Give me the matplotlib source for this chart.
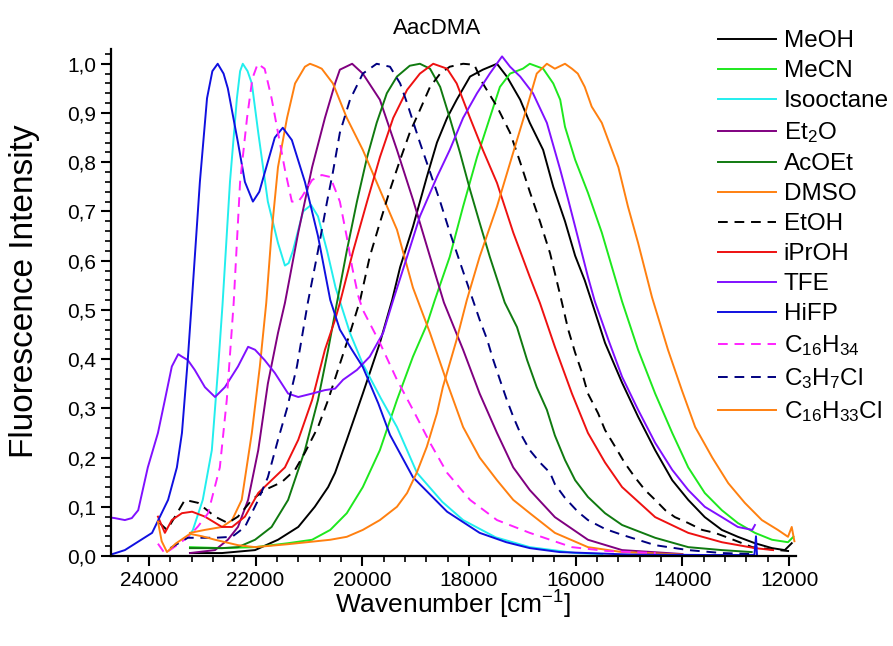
import matplotlib
matplotlib.use("Agg")
import matplotlib.pyplot as plt
from matplotlib.ticker import MultipleLocator, FuncFormatter

plt.rcParams['font.family'] = ['Liberation Sans', 'DejaVu Sans']
plt.rcParams['mathtext.default'] = 'regular'

# wavenumber [cm-1] / normalised intensity
meoh_x = [23230, 22630, 22010, 21580, 21200, 20890, 20640, 20510, 20290, 19990, 19670, 19440, 19290,
          19050, 18790, 18600, 18410, 18230, 17980, 17740, 17475, 17290, 17040, 16860, 16610, 16420,
          16200, 16010, 15830, 15700, 15450, 15130, 14830, 14510, 14190, 13890, 13580, 13260, 12960,
          12640, 12320, 12080, 11950]
meoh_y = [0.006, 0.006, 0.012, 0.033, 0.059, 0.10, 0.14, 0.169, 0.236, 0.33, 0.433, 0.52, 0.587,
          0.669, 0.77, 0.84, 0.89, 0.927, 0.974, 0.988, 1.0, 0.974, 0.927, 0.88, 0.825, 0.75,
          0.68, 0.61, 0.56, 0.517, 0.433, 0.352, 0.283, 0.215, 0.154, 0.114, 0.079, 0.053, 0.039,
          0.026, 0.016, 0.012, 0.026]

mecn_x = [23230, 22630, 22010, 21390, 20940, 20600, 20290, 19990, 19670, 19350, 19050, 18790, 18640,
          18360, 18110, 17850, 17610, 17420, 17230, 16990, 16860, 16610, 16420, 16290, 16200, 16010,
          15770, 15510, 15320, 15130, 14830, 14510, 14190, 13890, 13580, 13260, 12960, 12640, 12320,
          12020, 11920]
mecn_y = [0.018, 0.016, 0.018, 0.026, 0.033, 0.053, 0.087, 0.14, 0.215, 0.317, 0.405, 0.47, 0.52,
          0.608, 0.71, 0.81, 0.89, 0.953, 0.98, 0.99, 1.0, 0.99, 0.96, 0.927, 0.872, 0.805,
          0.738, 0.657, 0.587, 0.517, 0.419, 0.33, 0.25, 0.18, 0.128, 0.093, 0.067, 0.047, 0.033,
          0.028, 0.039]

iso_x = [23230, 23175, 22990, 22820, 22700, 22620, 22480, 22350, 22290, 22240, 22150, 22070, 21950,
         21770, 21580, 21450, 21380, 21300, 21110, 20960, 20830, 20660, 20500, 20230, 19990, 19650,
         19350, 18975, 18500, 18110, 17500, 16860, 16000, 15500]
iso_y = [0.043, 0.053, 0.114, 0.215, 0.385, 0.51, 0.76, 0.93, 0.985, 1.0, 0.985, 0.96, 0.86,
         0.72, 0.636, 0.59, 0.595, 0.62, 0.70, 0.713, 0.69, 0.62, 0.545, 0.453, 0.39, 0.32,
         0.262, 0.169, 0.11, 0.073, 0.038, 0.018, 0.006, 0.004]

et2o_x = [23230, 22760, 22520, 22330, 22140, 21950, 21770, 21580, 21450, 21200, 20940, 20700, 20510,
          20420, 20190, 19990, 19670, 19350, 19050, 18730, 18470, 18110, 17800, 17475, 17170, 16860,
          16390, 15770, 15130, 14000]
et2o_y = [0.006, 0.012, 0.033, 0.059, 0.114, 0.215, 0.35, 0.453, 0.514, 0.657, 0.79, 0.89, 0.96,
          0.988, 1.0, 0.98, 0.927, 0.825, 0.724, 0.608, 0.515, 0.419, 0.33, 0.25, 0.18, 0.134,
          0.079, 0.033, 0.012, 0.004]

acoet_x = [23230, 22630, 22330, 22010, 21700, 21390, 21075, 20830, 20640, 20500, 20290, 20100, 19910,
           19730, 19540, 19350, 19110, 18920, 18730, 18540, 18360, 18170, 17980, 17800, 17610, 17330,
           17100, 16910, 16730, 16540, 16390, 16200, 16010, 15770, 15450, 15130, 14510, 13890, 13260,
           12700]
acoet_y = [0.016, 0.016, 0.018, 0.033, 0.059, 0.114, 0.215, 0.317, 0.419, 0.50, 0.62, 0.72, 0.81,
           0.88, 0.94, 0.974, 0.996, 1.0, 0.99, 0.953, 0.89, 0.82, 0.744, 0.677, 0.608, 0.515,
           0.465, 0.398, 0.343, 0.297, 0.245, 0.195, 0.154, 0.12, 0.087, 0.063, 0.037, 0.018, 0.012,
           0.008]

dmso_x = [23230, 22950, 22630, 22440, 22260, 22070, 21920, 21800, 21700, 21580, 21410, 21260, 21075,
          20980, 20860, 20760, 20550, 20290, 19990, 19670, 19350, 19050, 18730, 18410, 18110, 17800,
          17475, 17170, 16860, 16390, 15770, 15130, 14000]
dmso_y = [0.047, 0.053, 0.059, 0.073, 0.114, 0.25, 0.385, 0.514, 0.657, 0.79, 0.89, 0.96, 0.994,
          1.0, 0.995, 0.99, 0.96, 0.89, 0.825, 0.744, 0.663, 0.545, 0.453, 0.352, 0.262, 0.2,
          0.154, 0.114, 0.087, 0.047, 0.018, 0.008, 0.003]

etoh_x = [23800, 23660, 23510, 23325, 23080, 22760, 22520, 22330, 22070, 21830, 21510, 21260, 21075,
          20830, 20640, 20475, 20230, 20040, 19860, 19670, 19480, 19290, 19110, 18920, 18730, 18540,
          18360, 18110, 17900, 17740, 17475, 17230, 17040, 16860, 16670, 16480, 16290, 16140, 16010,
          15880, 15770, 15580, 15450, 15260, 15080, 14890, 14700, 14510, 14320, 14140, 13890, 13630,
          13390, 13140, 12880, 12690, 12300, 12000]
etoh_y = [0.067, 0.053, 0.08, 0.114, 0.108, 0.08, 0.067, 0.08, 0.114, 0.134, 0.15, 0.175, 0.21,
          0.262, 0.317, 0.372, 0.453, 0.52, 0.608, 0.677, 0.744, 0.805, 0.86, 0.906, 0.953, 0.98,
          0.994, 1.0, 0.998, 0.96, 0.913, 0.86, 0.80, 0.74, 0.68, 0.615, 0.53, 0.46, 0.413,
          0.372, 0.33, 0.29, 0.256, 0.222, 0.189, 0.16, 0.134, 0.114, 0.093, 0.079, 0.067, 0.053,
          0.047, 0.037, 0.026, 0.018, 0.013, 0.01]

iproh_x = [23830, 23700, 23570, 23380, 23190, 22950, 22630, 22440, 22200, 21950, 21700, 21450, 21200,
           20940, 20700, 20510, 20420, 20170, 19910, 19670, 19420, 19160, 18920, 18670, 18410, 18230,
           17980, 17740, 17475, 17170, 16860, 16670, 16390, 16070, 15770, 15450, 15130, 14510, 13890,
           13260, 12640, 12300]
iproh_y = [0.08, 0.047, 0.073, 0.087, 0.09, 0.08, 0.059, 0.059, 0.08, 0.128, 0.154, 0.18, 0.236,
           0.317, 0.419, 0.48, 0.514, 0.62, 0.72, 0.81, 0.89, 0.947, 0.98, 1.0, 0.99, 0.96,
           0.89, 0.825, 0.758, 0.657, 0.567, 0.514, 0.425, 0.33, 0.25, 0.19, 0.14, 0.079, 0.047,
           0.028, 0.016, 0.012]

tfe_x = [24710, 24640, 24450, 24320, 24200, 24020, 23830, 23700, 23570, 23450, 23380, 23270, 23140,
         22950, 22760, 22575, 22330, 22140, 22010, 21830, 21640, 21390, 21200, 20940, 20700, 20510,
         20360, 20100, 19860, 19610, 19420, 19160, 18920, 18600, 18360, 18110, 17850, 17610, 17380,
         17230, 17040, 16800, 16540, 16290, 16140, 15960, 15770, 15640, 15390, 15130, 14830, 14510,
         14190, 13890, 13580, 13260, 12960, 12690, 12640]
tfe_y = [0.078, 0.077, 0.073, 0.077, 0.093, 0.18, 0.25, 0.317, 0.385, 0.41, 0.405, 0.398, 0.378,
         0.343, 0.323, 0.343, 0.385, 0.425, 0.419, 0.398, 0.372, 0.33, 0.323, 0.33, 0.337, 0.34,
         0.358, 0.378, 0.405, 0.453, 0.52, 0.608, 0.69, 0.77, 0.825, 0.89, 0.94, 0.98, 1.015,
         0.994, 0.974, 0.94, 0.88, 0.785, 0.724, 0.648, 0.567, 0.517, 0.44, 0.364, 0.297, 0.23,
         0.175, 0.134, 0.1, 0.079, 0.059, 0.053, 0.063]

hifp_x = [24710, 24450, 23940, 23640, 23475, 23380, 23270, 23200, 23044, 22910, 22810, 22710, 22600,
          22520, 22330, 22200, 22050, 21930, 21825, 21640, 21490, 21320, 21075, 20830, 20600, 20420,
          20200, 19990, 19700, 19480, 19050, 18410, 17800, 17300, 16860, 16300, 15000, 13500, 12650,
          12620, 12600]
hifp_y = [0.003, 0.012, 0.047, 0.114, 0.18, 0.25, 0.40, 0.51, 0.76, 0.93, 0.985, 1.0, 0.98,
          0.95, 0.84, 0.76, 0.72, 0.74, 0.78, 0.85, 0.87, 0.845, 0.76, 0.65, 0.52, 0.46,
          0.42, 0.384, 0.31, 0.246, 0.16, 0.09, 0.047, 0.028, 0.016, 0.008, 0.003, 0.002, 0.002,
          0.04, 0.0]

c16h34_x = [23830, 23700, 23500, 23250, 23080, 22890, 22670, 22540, 22410, 22290, 22160, 22060, 21960,
            21830, 21700, 21580, 21450, 21320, 21200, 21130, 20940, 20760, 20600, 20420, 20290, 20190,
            20080, 19990, 19670, 19350, 19050, 18730, 18410, 17980, 17475, 16860, 16290, 16070, 15400,
            14500]
c16h34_y = [0.025, 0.005, 0.02, 0.04, 0.06, 0.087, 0.18, 0.317, 0.515, 0.76, 0.89, 0.97, 1.0,
            0.99, 0.93, 0.86, 0.785, 0.72, 0.72, 0.73, 0.764, 0.774, 0.77, 0.72, 0.648, 0.587,
            0.53, 0.50, 0.433, 0.358, 0.297, 0.23, 0.169, 0.114, 0.073, 0.047, 0.026, 0.018, 0.01,
            0.006]

c3h7cl_x = [23600, 23270, 22760, 22440, 22200, 21950, 21770, 21580, 21410, 21225, 21020, 20830, 20660,
            20550, 20420, 20230, 19990, 19730, 19480, 19290, 19160, 18920, 18730, 18540, 18360, 18110,
            17920, 17800, 17660, 17550, 17420, 17290, 17170, 17040, 16860, 16670, 16480, 16390, 16200,
            15960, 15770, 15450, 15130, 14510, 13890, 13260, 12700]
c3h7cl_y = [0.016, 0.037, 0.037, 0.039, 0.059, 0.114, 0.16, 0.236, 0.30, 0.385, 0.515, 0.62, 0.72,
            0.78, 0.86, 0.927, 0.98, 1.0, 0.994, 0.96, 0.92, 0.84, 0.78, 0.72, 0.658, 0.578,
            0.518, 0.48, 0.44, 0.40, 0.358, 0.317, 0.283, 0.25, 0.215, 0.19, 0.169, 0.146, 0.118,
            0.09, 0.073, 0.055, 0.043, 0.022, 0.012, 0.006, 0.004]

c16h33cl_x = [23830, 23760, 23660, 23500, 23230, 23000, 22760, 22330, 22010, 21390, 20600, 20290, 19990,
              19670, 19350, 19160, 18980, 18790, 18600, 18490, 18230, 18040, 17800, 17475, 17170, 16910,
              16730, 16540, 16390, 16200, 16070, 15960, 15830, 15700, 15510, 15390, 15200, 15020, 14830,
              14570, 14270, 14010, 13760, 13440, 13140, 12830, 12510, 12210, 12020, 11950, 11900]
c16h33cl_y = [0.07, 0.03, 0.008, 0.025, 0.045, 0.04, 0.033, 0.022, 0.018, 0.024, 0.033, 0.039, 0.053,
              0.073, 0.10, 0.128, 0.169, 0.222, 0.29, 0.343, 0.44, 0.52, 0.608, 0.71, 0.82, 0.913,
              0.98, 1.0, 0.99, 1.0, 0.99, 0.98, 0.953, 0.913, 0.88, 0.845, 0.79, 0.71, 0.636,
              0.526, 0.419, 0.337, 0.262, 0.2, 0.148, 0.108, 0.073, 0.053, 0.039, 0.059, 0.03]

series = [
    ("MeOH", meoh_x, meoh_y, "black", "-"),
    ("MeCN", mecn_x, mecn_y, "#1ee81e", "-"),
    ("Isooctane", iso_x, iso_y, "#22eeee", "-"),
    ("Et$_2$O", et2o_x, et2o_y, "#800080", "-"),
    ("AcOEt", acoet_x, acoet_y, "#107a10", "-"),
    ("DMSO", dmso_x, dmso_y, "#ff8010", "-"),
    ("EtOH", etoh_x, etoh_y, "black", (0, (5, 3.5))),
    ("iPrOH", iproh_x, iproh_y, "#ee1111", "-"),
    ("TFE", tfe_x, tfe_y, "#8010ff", "-"),
    ("HiFP", hifp_x, hifp_y, "#1010e0", "-"),
    ("C$_{16}$H$_{34}$", c16h34_x, c16h34_y, "#ff22ff", (0, (5, 3.5))),
    ("C$_3$H$_7$Cl", c3h7cl_x, c3h7cl_y, "#000080", (0, (5, 3.5))),
    ("C$_{16}$H$_{33}$Cl", c16h33cl_x, c16h33cl_y, "#ff8010", "-"),
]

fig = plt.figure(figsize=(8.93, 6.46), dpi=100)
ax = fig.add_axes([111 / 893, 90 / 646, 685 / 893, 507 / 646])

for name, x, y, c, ls in series:
    ax.plot(x, y, color=c, linestyle=ls, linewidth=1.4, label=name)

ax.set_xlim(24710, 11870)
ax.set_ylim(0, 1.03)
ax.xaxis.set_major_locator(MultipleLocator(2000))
ax.xaxis.set_minor_locator(MultipleLocator(400))
ax.yaxis.set_major_locator(MultipleLocator(0.1))
ax.yaxis.set_minor_locator(MultipleLocator(0.02))
ax.yaxis.set_major_formatter(FuncFormatter(lambda v, p: f"{v:.1f}".replace(".", ",")))

for s in ["top", "right"]:
    ax.spines[s].set_visible(False)
for s in ["left", "bottom"]:
    ax.spines[s].set_linewidth(1.6)
ax.tick_params(which="major", length=7, width=1.5, labelsize=15, direction="out")
ax.tick_params(which="minor", length=4, width=1.2, direction="out")

ax.set_xlabel("Wavenumber [cm$^{-1}$]", fontsize=19)
ax.xaxis.set_label_coords(0.5, -0.065)
ax.set_ylabel("Fluorescence Intensity", fontsize=24)
ax.yaxis.set_label_coords(-0.104, 0.523)
fig.text(437 / 893, 1 - 28 / 646, "AacDMA", fontsize=16, ha="center", va="center")

fig.legend(loc="upper left", bbox_to_anchor=(718 / 893, 1 - 30 / 646), frameon=False,
           fontsize=17.5, handlelength=2.4, handletextpad=0.3, labelspacing=0.33,
           borderpad=0, borderaxespad=0)

fig.savefig("out.png", dpi=100)
